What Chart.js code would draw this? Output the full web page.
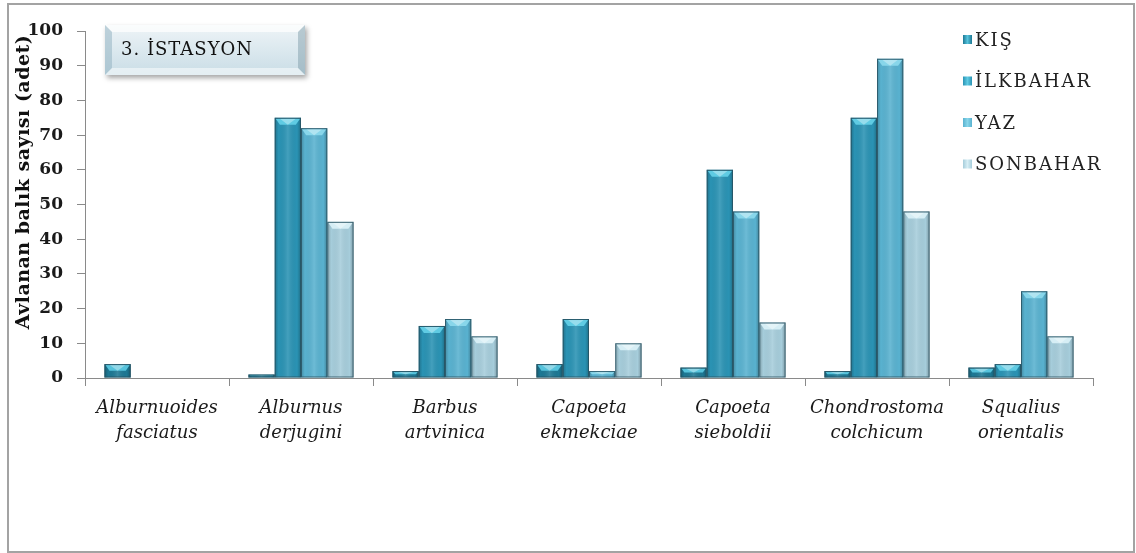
<!DOCTYPE html>
<html>
<head>
<meta charset="utf-8">
<script src="https://cdn.jsdelivr.net/npm/chart.js@4/dist/chart.umd.min.js"></script>
<style>
  html, body { margin: 0; padding: 0; background: #fff; }
  #wrap { width: 1136px; height: 553px; position: relative; }
</style>
</head>
<body>
<div id="wrap"><canvas id="chart"></canvas></div>
<script>
// species (two-line labels)
const categories = [
    ['Alburnuoides', 'fasciatus'],
    ['Alburnus', 'derjugini'],
    ['Barbus', 'artvinica'],
    ['Capoeta', 'ekmekciae'],
    ['Capoeta', 'sieboldii'],
    ['Chondrostoma', 'colchicum'],
    ['Squalius', 'orientalis']
];
const seasons = ['KIŞ', 'İLKBAHAR', 'YAZ', 'SONBAHAR'];
const kis = [4, 1, 2, 4, 3, 2, 3];
const ilkbahar = [0, 75, 15, 17, 60, 75, 4];
const yaz = [0, 72, 17, 2, 48, 92, 25];
const sonbahar = [0, 45, 12, 10, 16, 48, 12];
const yTicks = [0, 10, 20, 30, 40, 50, 60, 70, 80, 90, 100];
const stationTitle = '3. İSTASYON';
const yTitle = 'Avlanan balık sayısı (adet)';

const colors = ['#1d7894', '#2a93b4', '#59b2d0', '#a6cddb'];
const tops = ['#56c3dc', '#5fcbe3', '#88d6ea', '#d6eef5'];

// page frame, station box, y title, legend
const decorPlugin = {
    id: 'decor',
    beforeDraw(chart) {
        const ctx = chart.ctx;
        ctx.save();
        ctx.fillStyle = '#fff';
        ctx.fillRect(0, 0, chart.width, chart.height);
        ctx.strokeStyle = '#a3a3a3';
        ctx.lineWidth = 2;
        ctx.strokeRect(8, 4, 1126, 548);
        ctx.restore();
    },
    afterDraw(chart) {
        const ctx = chart.ctx;
        ctx.save();
        // station box
        const bx = 105, by = 25, bw = 200, bh = 50;
        ctx.shadowColor = 'rgba(0,0,0,0.35)';
        ctx.shadowBlur = 5;
        ctx.shadowOffsetX = 2;
        ctx.shadowOffsetY = 3;
        const g = ctx.createLinearGradient(0, by, 0, by + bh);
        g.addColorStop(0, '#eef4f7');
        g.addColorStop(1, '#c9dde6');
        ctx.fillStyle = g;
        ctx.fillRect(bx, by, bw, bh);
        ctx.shadowColor = 'transparent';
        // bevel edges
        const e = 7;
        ctx.fillStyle = 'rgba(255,255,255,0.7)';
        ctx.beginPath();
        ctx.moveTo(bx, by); ctx.lineTo(bx + bw, by); ctx.lineTo(bx + bw - e, by + e); ctx.lineTo(bx + e, by + e);
        ctx.closePath(); ctx.fill();
        ctx.fillStyle = 'rgba(150,180,195,0.55)';
        ctx.beginPath();
        ctx.moveTo(bx, by); ctx.lineTo(bx + e, by + e); ctx.lineTo(bx + e, by + bh - e); ctx.lineTo(bx, by + bh);
        ctx.closePath(); ctx.fill();
        ctx.fillStyle = 'rgba(120,150,165,0.45)';
        ctx.beginPath();
        ctx.moveTo(bx + bw, by); ctx.lineTo(bx + bw, by + bh); ctx.lineTo(bx + bw - e, by + bh - e); ctx.lineTo(bx + bw - e, by + e);
        ctx.closePath(); ctx.fill();
        ctx.fillStyle = 'rgba(255,255,255,0.5)';
        ctx.beginPath();
        ctx.moveTo(bx, by + bh); ctx.lineTo(bx + e, by + bh - e); ctx.lineTo(bx + bw - e, by + bh - e); ctx.lineTo(bx + bw, by + bh);
        ctx.closePath(); ctx.fill();
        ctx.fillStyle = '#111';
        ctx.font = '18px "DejaVu Serif"';
        ctx.letterSpacing = '1px';
        ctx.textBaseline = 'middle';
        ctx.fillText(stationTitle, 121, 50);
        ctx.letterSpacing = '0px';

        // y axis title
        ctx.translate(24, 182);
        ctx.rotate(-Math.PI / 2);
        ctx.font = 'bold 19px "DejaVu Serif"';
        ctx.letterSpacing = '0.5px';
        ctx.textAlign = 'center';
        ctx.textBaseline = 'middle';
        ctx.fillText(yTitle, 0, 0);
        ctx.restore();

        // legend
        ctx.save();
        ctx.font = '18px "DejaVu Serif"';
        ctx.letterSpacing = '2px';
        ctx.textBaseline = 'middle';
        chart.data.datasets.forEach((ds, i) => {
            const cy = 40 + i * 41.5;
            const lg = ctx.createLinearGradient(963, 0, 972, 0);
            lg.addColorStop(0, colors[i]);
            lg.addColorStop(0.5, tops[i]);
            lg.addColorStop(1, colors[i]);
            ctx.fillStyle = lg;
            ctx.fillRect(963, cy - 5, 9, 9);
            ctx.fillStyle = '#222';
            ctx.fillText(ds.label, 975, cy + 1);
        });
        ctx.restore();
    }
};

// bevelled bar shading over the library bars
const bevelPlugin = {
    id: 'bevel',
    afterDatasetDraw(chart, args) {
        const ctx = chart.ctx;
        const i = args.index;
        const meta = args.meta;
        ctx.save();
        meta.data.forEach(el => {
            const p = el.getProps(['x', 'y', 'base', 'width'], true);
            const h = p.base - p.y;
            if (h < 0.5) return;
            const x0 = p.x - p.width / 2, x1 = p.x + p.width / 2;
            const g = ctx.createLinearGradient(x0, 0, x1, 0);
            g.addColorStop(0, 'rgba(0,0,0,0.22)');
            g.addColorStop(0.15, 'rgba(0,0,0,0)');
            g.addColorStop(0.5, 'rgba(255,255,255,0.12)');
            g.addColorStop(0.85, 'rgba(0,0,0,0)');
            g.addColorStop(1, 'rgba(0,0,0,0.25)');
            ctx.fillStyle = g;
            ctx.fillRect(x0, p.y, p.width, h);
            const t = Math.min(7, h / 2);
            ctx.fillStyle = tops[i];
            ctx.beginPath();
            ctx.moveTo(x0 + 1, p.y + 1);
            ctx.lineTo(x1 - 1, p.y + 1);
            ctx.lineTo(x1 - 1 - t * 0.6, p.y + t);
            ctx.lineTo(x0 + 1 + t * 0.6, p.y + t);
            ctx.closePath();
            ctx.fill();
            ctx.fillStyle = 'rgba(255,255,255,0.35)';
            ctx.beginPath();
            ctx.moveTo(p.x - p.width * 0.3, p.y + 1);
            ctx.lineTo(p.x + p.width * 0.3, p.y + 1);
            ctx.lineTo(p.x, p.y + t);
            ctx.closePath();
            ctx.fill();
            ctx.strokeStyle = 'rgba(40,80,95,0.8)';
            ctx.lineWidth = 1;
            ctx.strokeRect(x0 + 0.5, p.y + 0.5, p.width - 1, h - 1);
        });
        ctx.restore();
    }
};

const seriesValues = [kis, ilkbahar, yaz, sonbahar];

new Chart(document.getElementById('chart'), {
    type: 'bar',
    data: {
        labels: categories,
        datasets: seasons.map((s, i) => ({
            label: s,
            data: seriesValues[i],
            backgroundColor: colors[i],
            borderWidth: 0,
            categoryPercentage: 0.73,
            barPercentage: 1.0
        }))
    },
    options: {
        responsive: true,
        maintainAspectRatio: false,
        animation: false,
        layout: { padding: { left: 8, right: 43, top: 31, bottom: 0 } },
        plugins: {
            legend: { display: false },
            tooltip: { enabled: false }
        },
        scales: {
            x: {
                grid: { display: true, drawOnChartArea: false, tickLength: 8, color: '#8a8a8a', offset: true },
                border: { color: '#8a8a8a', width: 1 },
                ticks: {
                    color: '#1a1a1a',
                    font: { family: 'DejaVu Serif', style: 'italic', size: 18, lineHeight: 1.4 },
                    padding: 10,
                    maxRotation: 0,
                    autoSkip: false
                },
                afterFit(scale) { scale.height = 175; }
            },
            y: {
                min: 0,
                max: 100,
                afterBuildTicks(scale) { scale.ticks = yTicks.map(v => ({ value: v })); },
                grid: { display: true, drawOnChartArea: false, tickLength: 8, color: '#8a8a8a' },
                border: { color: '#8a8a8a', width: 1 },
                ticks: {
                    color: '#1a1a1a',
                    font: { family: 'DejaVu Serif', weight: 'bold', size: 17 },
                    padding: 14
                },
                afterFit(scale) { scale.width = 77; }
            }
        }
    },
    plugins: [decorPlugin, bevelPlugin]
});
</script>
</body>
</html>
